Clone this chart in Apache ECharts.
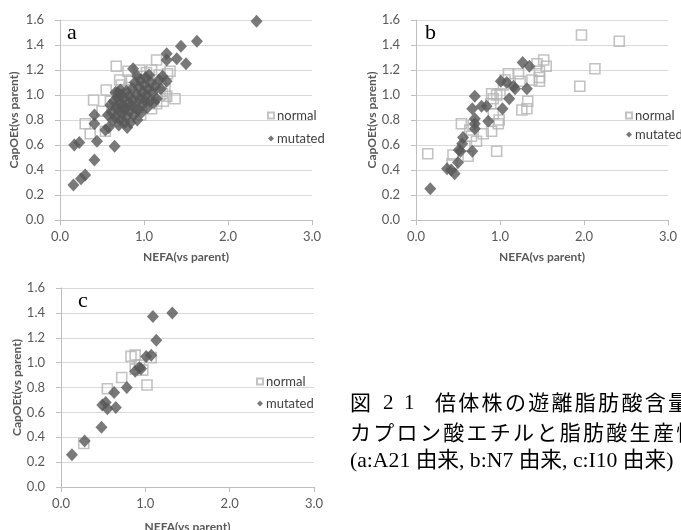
<!DOCTYPE html>
<html>
<head>
<meta charset="utf-8">
<script src="https://cdn.jsdelivr.net/npm/echarts@6/dist/echarts.min.js"></script>
<style>
html,body{margin:0;padding:0;background:#fff;}
#chart{width:681px;height:530px;}
</style>
</head>
<body>
<div id="chart"></div>
<script>
// ---- data (NEFA vs parent, CapOEt vs parent) ----
const aNormal = [[0.67,1.23],[0.40,0.96],[0.30,0.77],[0.36,0.69],[0.55,1.04],[0.54,0.71],[0.71,1.12],[0.73,1.08],
  [1.15,1.28],[1.09,1.20],[1.31,1.19],[1.37,0.97],[1.27,0.99],[1.22,1.01],[1.19,1.00],[1.09,0.89],[0.75,1.04],
  [0.95,1.20],[0.81,1.19],[0.63,0.88],[1.25,1.05],[1.18,1.16],[1.05,1.10],[0.98,1.15],[0.88,1.00],[0.85,1.12],
  [0.60,0.95],[0.78,0.95],[0.93,0.90],[1.00,0.98],[1.12,1.08],[1.28,1.17],[1.23,0.95],[0.66,0.79],[0.50,0.87],
  [0.70,0.86],[0.90,1.05],[1.03,1.18],[1.15,0.93],[0.82,1.06],[0.96,0.84],[1.20,1.10],[1.16,1.02]];
const aMutated = [[2.34,1.59],[1.63,1.43],[1.44,1.39],[1.39,1.29],[1.50,1.25],[1.27,1.33],[1.27,1.28],[1.27,1.11],
  [1.22,1.15],[0.17,0.60],[0.23,0.62],[0.16,0.28],[0.25,0.33],[0.30,0.36],[0.41,0.48],[0.44,0.63],[0.41,0.84],
  [0.41,0.77],[0.65,0.59],[0.54,0.72],[0.58,0.74],[0.87,1.21],
  [0.60,0.92],[0.62,0.86],[0.64,0.95],[0.66,0.82],[0.67,0.90],[0.68,0.98],[0.69,1.02],[0.70,0.76],[0.70,0.88],
  [0.71,0.94],[0.72,0.80],[0.73,1.00],[0.74,0.85],[0.75,0.92],[0.76,0.97],[0.77,0.78],[0.78,0.89],[0.79,1.03],
  [0.80,0.83],[0.81,0.94],[0.82,0.99],[0.83,0.87],[0.84,0.78],[0.85,0.92],[0.86,1.05],[0.87,0.96],[0.88,0.84],
  [0.89,1.10],[0.90,0.91],[0.91,1.00],[0.92,1.15],[0.93,0.88],[0.94,1.06],[0.95,0.97],[0.96,1.12],[0.97,0.86],
  [0.98,1.02],[0.99,0.93],[1.00,1.08],[1.01,0.96],[1.02,1.14],[1.03,1.00],[1.04,0.90],[1.05,1.05],[1.06,1.16],
  [1.07,0.95],[1.08,1.10],[1.10,1.02],[1.12,0.94],[1.13,1.07],[1.15,0.97],[1.18,1.12],[1.20,1.05],[0.63,0.80],
  [0.57,0.84],[0.66,1.02],[0.72,1.04],[0.80,0.74],[0.76,0.88],[0.92,0.80]];
const bNormal = [[0.14,0.53],[1.97,1.48],[2.42,1.43],[2.13,1.21],[1.95,1.07],[1.52,1.28],[1.55,1.23],[1.47,1.19],
  [1.47,1.14],[1.47,1.11],[1.44,1.25],[1.38,1.12],[1.33,0.95],[1.26,0.88],[1.32,0.89],[1.22,1.17],[1.24,1.11],
  [1.10,1.17],[1.06,1.12],[0.96,0.55],[0.90,1.01],[0.92,0.97],[0.96,1.00],[1.00,1.01],[1.04,1.08],[0.99,0.80],
  [0.98,0.77],[0.92,0.85],[0.90,0.71],[0.80,0.69],[0.72,0.63],[0.66,0.67],[0.64,0.72],[0.54,0.77],[0.58,0.59],
  [0.62,0.51],[0.43,0.45],[0.44,0.52],[0.68,0.76],[0.89,0.93]];
const bMutated = [[0.17,0.25],[0.37,0.41],[0.42,0.40],[0.46,0.37],[0.50,0.46],[0.53,0.55],[0.55,0.61],[0.56,0.66],
  [0.51,0.56],[0.67,0.55],[0.70,0.99],[0.67,0.89],[0.70,0.81],[0.70,0.77],[0.70,0.73],[0.78,0.91],[0.84,0.91],
  [0.86,0.79],[1.03,0.89],[1.01,1.11],[1.08,1.10],[1.11,0.97],[1.18,1.05],[1.16,1.07],[1.27,1.26],[1.35,1.23],
  [1.32,1.05]];
const cNormal = [[0.27,0.35],[0.55,0.79],[0.72,0.88],[0.83,1.05],[0.88,1.06],[0.88,0.95],[0.97,0.94],[1.02,0.82],
  [1.07,1.04],[0.93,0.98]];
const cMutated = [[0.13,0.26],[0.28,0.37],[0.48,0.48],[0.49,0.66],[0.53,0.68],[0.55,0.63],[0.63,0.76],[0.65,0.64],
  [0.78,0.80],[0.88,0.93],[0.93,0.96],[0.95,0.95],[1.01,1.05],[1.07,1.06],[1.09,1.37],[1.13,1.18],[1.32,1.40]];
const seriesNames = ['normal', 'mutated'];
const panelLetters = ['a', 'b', 'c'];
const xTitle = 'NEFA(vs parent)';
const yTitle = 'CapOEt(vs parent)';
const xRange = [0, 3, 1];
const yRange = [0, 1.6, 0.2];
const captionFig = '図';
const captionNum = ['2', '1'];
const captionLine1 = '倍体株の遊離脂肪酸含量';
const captionLine2 = 'カプロン酸エチルと脂肪酸生産性';
const captionLine3 = '(a:A21 由来, b:N7 由来, c:I10 由来)';

// ---- layout ----
const grids = [
  {left: 60, top: 20, width: 252, height: 200},
  {left: 416, top: 20, width: 252, height: 200},
  {left: 61, top: 288, width: 253, height: 199}
];
const axisGray = '#bfbfbf';
const labelGray = '#595959';
const font = 'Lato, "Liberation Sans", sans-serif';

function xAxisDef(i, nameGap) {
  return {
    gridIndex: i, type: 'value', min: xRange[0], max: xRange[1], interval: xRange[2],
    name: xTitle, nameLocation: 'middle', nameGap: nameGap,
    nameTextStyle: {fontFamily: font, fontWeight: 'bold', fontSize: 12, color: labelGray},
    axisLine: {show: true, onZero: false, lineStyle: {color: axisGray, width: 1}},
    axisTick: {show: true, length: 5, inside: false, lineStyle: {color: axisGray}},
    axisLabel: {show: true, showMinLabel: true, showMaxLabel: true, margin: 10, fontFamily: font, fontSize: 13, color: labelGray,
      formatter: v => v.toFixed(1)},
    splitLine: {show: false}
  };
}
function yAxisDef(i, nameGap) {
  return {
    gridIndex: i, type: 'value', min: yRange[0], max: yRange[1], interval: yRange[2],
    name: yTitle, nameLocation: 'middle', nameGap: nameGap, nameRotate: 90,
    nameTextStyle: {fontFamily: font, fontWeight: 'bold', fontSize: 12, color: labelGray},
    axisLine: {show: true, onZero: false, lineStyle: {color: axisGray, width: 1}},
    axisTick: {show: true, length: 5, inside: false, lineStyle: {color: axisGray}},
    axisLabel: {show: true, showMinLabel: true, showMaxLabel: true, margin: 16, fontFamily: font, fontSize: 13, color: labelGray,
      formatter: v => v.toFixed(1)},
    splitLine: {show: true, lineStyle: {color: '#d9d9d9', width: 1}}
  };
}
function normalSeries(i, data) {
  return {
    name: seriesNames[0], type: 'scatter', xAxisIndex: i, yAxisIndex: i, data: data,
    symbol: 'rect', symbolSize: 10, z: 2,
    itemStyle: {color: 'rgba(255,255,255,0)', borderColor: '#b4b4b4', borderWidth: 1.6},
    emphasis: {disabled: true}
  };
}
function mutatedSeries(i, data) {
  return {
    name: seriesNames[1], type: 'scatter', xAxisIndex: i, yAxisIndex: i, data: data,
    symbol: 'diamond', symbolSize: [12, 13], z: 3,
    itemStyle: {color: '#575757'},
    emphasis: {disabled: true}
  };
}
function legendDef(left, top, gap) {
  return {
    data: seriesNames, orient: 'vertical', left: left, top: top, itemGap: gap,
    itemWidth: 6, itemHeight: 6, selectedMode: false,
    textStyle: {fontFamily: font, fontSize: 13, color: '#404040', padding: [0, 0, 0, -2]}
  };
}

const graphics = [];
const letterPos = [[67, 22], [425, 22], [78, 290]];
panelLetters.forEach((l, k) => {
  graphics.push({type: 'text', left: letterPos[k][0], top: letterPos[k][1],
    style: {text: l, font: '22px "Liberation Serif", serif', fill: '#000'}});
});
// caption
const capFont = '21px "Noto Sans CJK JP", sans-serif';
const latinFont = '21px "Liberation Serif", serif';
const adv = 23.3;
graphics.push({type: 'text', x: 350, y: 402, style: {text: captionFig, font: capFont, fill: '#000', textVerticalAlign: 'middle'}});
graphics.push({type: 'text', x: 383, y: 403, style: {text: captionNum[0], font: latinFont, fill: '#000', textVerticalAlign: 'middle'}});
graphics.push({type: 'text', x: 404, y: 403, style: {text: captionNum[1], font: latinFont, fill: '#000', textVerticalAlign: 'middle'}});
Array.from(captionLine1).forEach((ch, k) => {
  graphics.push({type: 'text', x: 435 + k * adv, y: 402, style: {text: ch, font: capFont, fill: '#000', textVerticalAlign: 'middle'}});
});
Array.from(captionLine2).forEach((ch, k) => {
  graphics.push({type: 'text', x: 350 + k * adv, y: 432, style: {text: ch, font: capFont, fill: '#000', textVerticalAlign: 'middle'}});
});
graphics.push({type: 'text', x: 350, y: 461, style: {text: captionLine3, font: '21.7px "Liberation Serif", "Noto Sans CJK JP", serif', fill: '#000', textVerticalAlign: 'middle'}});

const chart = echarts.init(document.getElementById('chart'), null, {renderer: 'canvas'});
chart.setOption({
  animation: false,
  backgroundColor: '#ffffff',
  grid: grids.map(g => Object.assign({outerBoundsMode: 'none', containLabel: false}, g)),
  xAxis: [xAxisDef(0, 31), xAxisDef(1, 31), xAxisDef(2, 34)],
  yAxis: [yAxisDef(0, 40), yAxisDef(1, 36), yAxisDef(2, 38)],
  legend: [legendDef(262, 104, 10), legendDef(620, 104, 6), legendDef(251, 370, 9)],
  series: [
    normalSeries(0, aNormal), mutatedSeries(0, aMutated),
    normalSeries(1, bNormal), mutatedSeries(1, bMutated),
    normalSeries(2, cNormal), mutatedSeries(2, cMutated)
  ],
  graphic: graphics
});
</script>
</body>
</html>
